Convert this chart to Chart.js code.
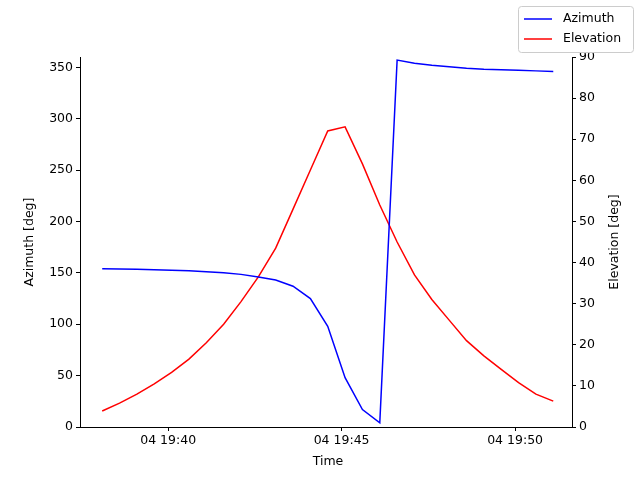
<!DOCTYPE html>
<html><head><meta charset="utf-8">
<script src="https://cdn.jsdelivr.net/npm/chart.js@4"></script>
<style>html,body{margin:0;padding:0;background:#fff}#c{width:640px;height:480px}</style>
</head><body><canvas id="c" width="640" height="480"></canvas>
<script>
// times in minutes after 19:00 (30 s spacing)
const times = [38.1,38.6,39.1,39.6,40.1,40.6,41.1,41.6,42.1,42.6,43.1,43.6,44.1,44.6,45.1,45.6,46.1,46.6,47.1,47.6,48.1,48.6,49.1,49.6,50.1,50.6,51.1];
const azimuth = [154,153.8,153.5,153,152.5,152,151,150,148.5,146,143,137,125,98,48,17,4,357,354,352,350.5,349,348,347.5,347,346.5,346];
const elevation = [3.9,5.8,8,10.5,13.3,16.5,20.5,25,30.5,36.5,43.5,53,62.5,72,73,64,54,45,37,31,26,21,17.3,14,10.8,8,6.3];
const xTicks = [40,45,50];
const font = {family:'DejaVu Sans',size:12.5};
const grid = {drawOnChartArea:false,tickLength:4,color:'#000',tickColor:'#000'};
const legendPlugin = {id:'lg',afterDraw(c){const x=c.ctx;x.save();
 x.fillStyle='#fff';x.strokeStyle='#ccc';x.lineWidth=1;
 x.beginPath();x.roundRect(518.5,6.5,115,46,3);x.fill();x.stroke();
 x.font='12.5px DejaVu Sans';x.textBaseline='middle';x.fillStyle='#000';
 [['Azimuth','blue',19],['Elevation','red',39]].forEach(([t,col,y])=>{
  x.strokeStyle=col;x.lineWidth=1.5;x.beginPath();x.moveTo(524,y);x.lineTo(552,y);x.stroke();
  x.fillText(t,563,y);});
 x.textAlign='center';
 x.fillText('Time',328,462);
 [['Azimuth [deg]',30],['Elevation [deg]',615]].forEach(([t,px])=>{
  x.save();x.translate(px,242);x.rotate(-Math.PI/2);x.fillText(t,0,0);x.restore();});
 x.restore();}};
new Chart(document.getElementById('c'),{type:'line',
 data:{datasets:[
  {label:'Azimuth',data:times.map((t,i)=>({x:t,y:azimuth[i]})),borderColor:'blue',borderWidth:1.5,pointRadius:0,yAxisID:'y',tension:0},
  {label:'Elevation',data:times.map((t,i)=>({x:t,y:elevation[i]})),borderColor:'red',borderWidth:1.5,pointRadius:0,yAxisID:'y1',tension:0}]},
 options:{responsive:false,animation:false,
  layout:{padding:{top:57,right:0,bottom:0,left:0}},
  plugins:{legend:{display:false},tooltip:{enabled:false}},
  scales:{
   x:{type:'linear',min:37.46,max:51.64,grid,border:{color:'#000'},
    afterBuildTicks(a){a.ticks=xTicks.map(v=>({value:v}));},
    ticks:{color:'#000',font,padding:2,maxRotation:0,callback:v=>'04 19:'+v},
    afterFit(a){a.height=53;}},
   y:{position:'left',min:0,max:360,grid,border:{color:'#000'},
    afterBuildTicks(a){a.ticks=[0,50,100,150,200,250,300,350].map(v=>({value:v}));},
    ticks:{color:'#000',font,padding:3},
    afterFit(a){a.width=80;}},
   y1:{position:'right',min:0,max:90,grid,border:{color:'#000'},
    ticks:{color:'#000',font,stepSize:10,padding:3},
    afterFit(a){a.width=68;}}
  }},
 plugins:[legendPlugin]});
</script></body></html>
